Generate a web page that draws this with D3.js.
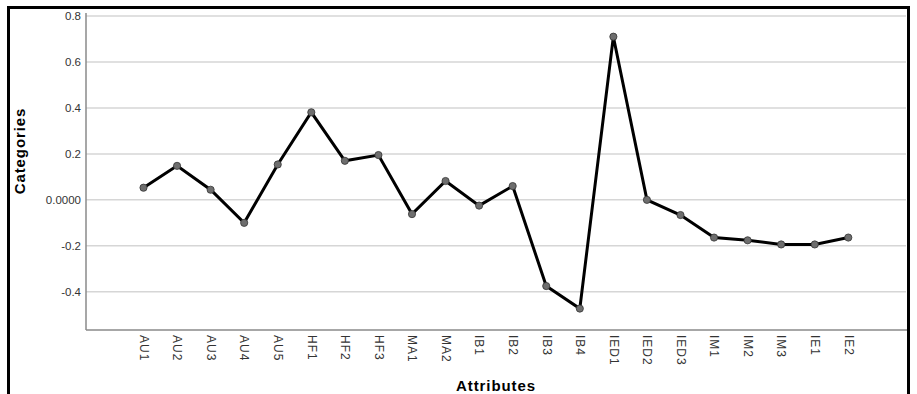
<!DOCTYPE html>
<html>
<head>
<meta charset="utf-8">
<script src="https://cdn.jsdelivr.net/npm/d3@7"></script>
<style>
  html, body { margin: 0; padding: 0; background: #fff; }
  svg { display: block; }
  text { font-family: "Liberation Sans", Arial, sans-serif; }
</style>
</head>
<body>
<svg id="chart" width="917" height="394"></svg>
<script>
// Attribute codes along the horizontal axis
const attributes = ["AU1","AU2","AU3","AU4","AU5","HF1","HF2","HF3","MA1","MA2",
  "IB1","IB2","IB3","IB4","IED1","IED2","IED3","IM1","IM2","IM3","IE1","IE2"];
// Category quantification per attribute
const categoryValues = [0.053, 0.148, 0.044, -0.1, 0.154, 0.381, 0.17, 0.195, -0.062, 0.082,
  -0.025, 0.06, -0.375, -0.473, 0.71, 0.0, -0.066, -0.164, -0.176, -0.194, -0.194, -0.164];
// Vertical axis ticks and their printed labels
const yTicks = [0.8, 0.6, 0.4, 0.2, 0, -0.2, -0.4];
const yTickLabels = ["0.8", "0.6", "0.4", "0.2", "0.0000", "-0.2", "-0.4"];

const svg = d3.select("#chart");

const plot = { left: 86, right: 907, top: 13, bottom: 330 };

const x = d3.scalePoint()
  .domain(attributes)
  .range([143.5, 848.3]);

const y = d3.scaleLinear()
  .domain([-0.4, 0.8])
  .range([291.8, 16]);

// outer frame (open at the bottom)
svg.append("path")
  .attr("d", `M8.5,394 V7.5 H908.5 V394`)
  .attr("fill", "none")
  .attr("stroke", "#000")
  .attr("stroke-width", 3);

// horizontal gridlines
svg.append("g")
  .selectAll("line")
  .data(yTicks)
  .join("line")
  .attr("x1", plot.left)
  .attr("x2", 906)
  .attr("y1", d => y(d))
  .attr("y2", d => y(d))
  .attr("stroke", "#d6d6d6")
  .attr("stroke-width", 1.5);

// y axis
const yAxis = svg.append("g")
  .attr("transform", `translate(${plot.left},0)`)
  .call(d3.axisLeft(y).tickValues(yTicks).tickSize(0).tickPadding(5)
    .tickFormat((d, i) => yTickLabels[i]));
yAxis.select(".domain").remove();
yAxis.selectAll("text")
  .attr("font-size", 11.5)
  .attr("fill", "#333")
  .style("font-family", "'Liberation Sans', Arial, sans-serif");

svg.append("line")
  .attr("x1", plot.left).attr("x2", plot.left)
  .attr("y1", plot.top).attr("y2", plot.bottom)
  .attr("stroke", "#8a8a8a").attr("stroke-width", 1.5);

// x axis
const xAxis = svg.append("g")
  .attr("transform", `translate(0,${plot.bottom})`)
  .call(d3.axisBottom(x).tickSize(0).tickPadding(0));
xAxis.select(".domain").remove();
xAxis.selectAll("text")
  .attr("font-size", 12)
  .attr("fill", "#333")
  .attr("text-anchor", "start")
  .attr("dy", "0.35em")
  .attr("letter-spacing", "1px")
  .attr("transform", "translate(0,5) rotate(90)")
  .attr("x", 0).attr("y", 0)
  .style("font-family", "'Liberation Sans', Arial, sans-serif");

svg.append("line")
  .attr("x1", plot.left).attr("x2", plot.right)
  .attr("y1", plot.bottom).attr("y2", plot.bottom)
  .attr("stroke", "#8a8a8a").attr("stroke-width", 1.5);

// axis titles
svg.append("text")
  .attr("transform", "translate(25,151) rotate(-90)")
  .attr("text-anchor", "middle")
  .attr("font-size", 15)
  .attr("font-weight", "bold")
  .attr("letter-spacing", "0.9px")
  .attr("fill", "#000")
  .text("Categories");

svg.append("text")
  .attr("x", 496)
  .attr("y", 391)
  .attr("text-anchor", "middle")
  .attr("font-size", 15)
  .attr("font-weight", "bold")
  .attr("letter-spacing", "0.9px")
  .attr("fill", "#000")
  .text("Attributes");

// data line
const pts = attributes.map((a, i) => ({ a, v: categoryValues[i] }));
svg.append("path")
  .datum(pts)
  .attr("fill", "none")
  .attr("stroke", "#000")
  .attr("stroke-width", 3)
  .attr("stroke-linejoin", "miter")
  .attr("d", d3.line().x(d => x(d.a)).y(d => y(d.v)));

// markers
svg.append("g")
  .selectAll("circle")
  .data(pts)
  .join("circle")
  .attr("cx", d => x(d.a))
  .attr("cy", d => y(d.v))
  .attr("r", 3.6)
  .attr("fill", "#6e6e6e")
  .attr("stroke", "#333")
  .attr("stroke-width", 0.8);
</script>
</body>
</html>
